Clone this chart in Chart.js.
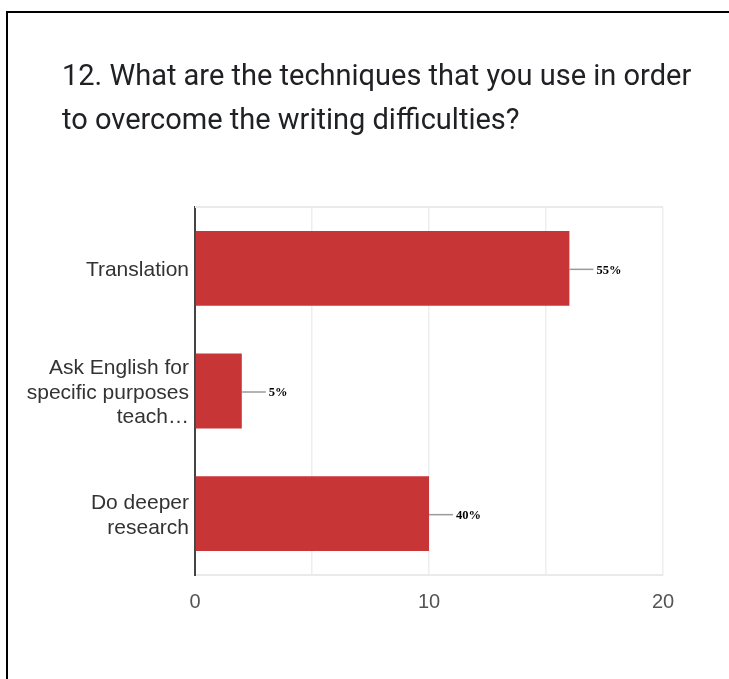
<!DOCTYPE html>
<html>
<head>
<meta charset="utf-8">
<script src="https://cdn.jsdelivr.net/npm/chart.js@4.4.1/dist/chart.umd.min.js"></script>
<style>
  html, body { margin: 0; padding: 0; background: #fff; }
  #wrap { position: relative; width: 729px; height: 679px; overflow: hidden; }
  #frame { position: absolute; left: 6px; top: 11px; width: 740px; height: 700px;
           border-top: 2px solid #000; border-left: 2px solid #000; box-sizing: border-box; }
  canvas { position: absolute; left: 0; top: 0; }
</style>
</head>
<body>
<div id="wrap">
  <div id="frame"></div>
  <canvas id="c" width="729" height="679"></canvas>
</div>
<script>
// Survey question and answers
const titleLines = [
  '12. What are the techniques that you use in order',
  'to overcome the writing difficulties?'
];
const categories = [
  ['Translation'],
  ['Ask English for', 'specific purposes', 'teach\u2026'],
  ['Do deeper', 'research']
];
const responses = [16, 2, 10];
const shareLabels = ['55%', '5%', '40%'];
const axisTicks = [0, 10, 20];

// Question text at the top of the card
const questionTitle = {
  id: 'questionTitle',
  afterDraw(chart) {
    const ctx = chart.ctx;
    ctx.save();
    ctx.fillStyle = '#202124';
    ctx.font = '29px Roboto, "Open Sans", sans-serif';
    ctx.textAlign = 'left';
    ctx.textBaseline = 'alphabetic';
    titleLines.forEach((t, i) => ctx.fillText(t, 62, 85 + i * 44));
    ctx.restore();
  }
};

// Light frame line along the top of the plot
const plotFrame = {
  id: 'plotFrame',
  beforeDatasetsDraw(chart) {
    const { ctx, chartArea: a } = chart;
    ctx.save();
    ctx.strokeStyle = '#eaeaea';
    ctx.lineWidth = 2;
    ctx.beginPath();
    ctx.moveTo(a.left, a.top);
    ctx.lineTo(a.right, a.top);
    ctx.stroke();
    ctx.restore();
  }
};

// Leader line and percentage beside each bar
const shareCallouts = {
  id: 'shareCallouts',
  afterDatasetsDraw(chart) {
    const ctx = chart.ctx;
    const meta = chart.getDatasetMeta(0);
    ctx.save();
    meta.data.forEach((bar, i) => {
      const x = bar.x, y = bar.y;
      ctx.strokeStyle = '#9a9a9a';
      ctx.lineWidth = 1.5;
      ctx.beginPath();
      ctx.moveTo(x, y + 1);
      ctx.lineTo(x + 24, y + 1);
      ctx.stroke();
      ctx.fillStyle = '#000';
      ctx.font = 'bold 12.5px "Liberation Serif", "DejaVu Serif", serif';
      ctx.textAlign = 'left';
      ctx.textBaseline = 'middle';
      ctx.fillText(shareLabels[i], x + 27, y + 2);
    });
    ctx.restore();
  }
};

new Chart(document.getElementById('c'), {
  type: 'bar',
  data: {
    labels: categories,
    datasets: [{
      data: responses,
      backgroundColor: '#c83537',
      borderWidth: 0,
      categoryPercentage: 1,
      barPercentage: 0.61
    }]
  },
  options: {
    indexAxis: 'y',
    responsive: false,
    animation: false,
    events: [],
    layout: { padding: { left: 0, right: 66, top: 207, bottom: 0 } },
    plugins: {
      legend: { display: false },
      tooltip: { enabled: false },
      title: { display: false }
    },
    scales: {
      x: {
        min: 0,
        max: 20,
        ticks: {
          stepSize: 5,
          padding: 15,
          color: '#555',
          font: { family: '"Liberation Sans", Arial, sans-serif', size: 20 },
          callback: (v) => axisTicks.includes(v) ? String(v) : ''
        },
        grid: { color: '#eeeeee', lineWidth: 1.5, drawTicks: false },
        border: { color: '#eaeaea', width: 2 },
        afterFit(scale) { scale.height = 104; }
      },
      y: {
        ticks: {
          padding: 6,
          labelOffset: 2,
          color: '#333',
          font: { family: '"Liberation Sans", Arial, sans-serif', size: 21, lineHeight: 1.17 }
        },
        grid: { display: false, drawTicks: false },
        border: { color: '#444', width: 2 },
        afterFit(scale) { scale.width = 195; }
      }
    }
  },
  plugins: [plotFrame, shareCallouts, questionTitle]
});
</script>
</body>
</html>
